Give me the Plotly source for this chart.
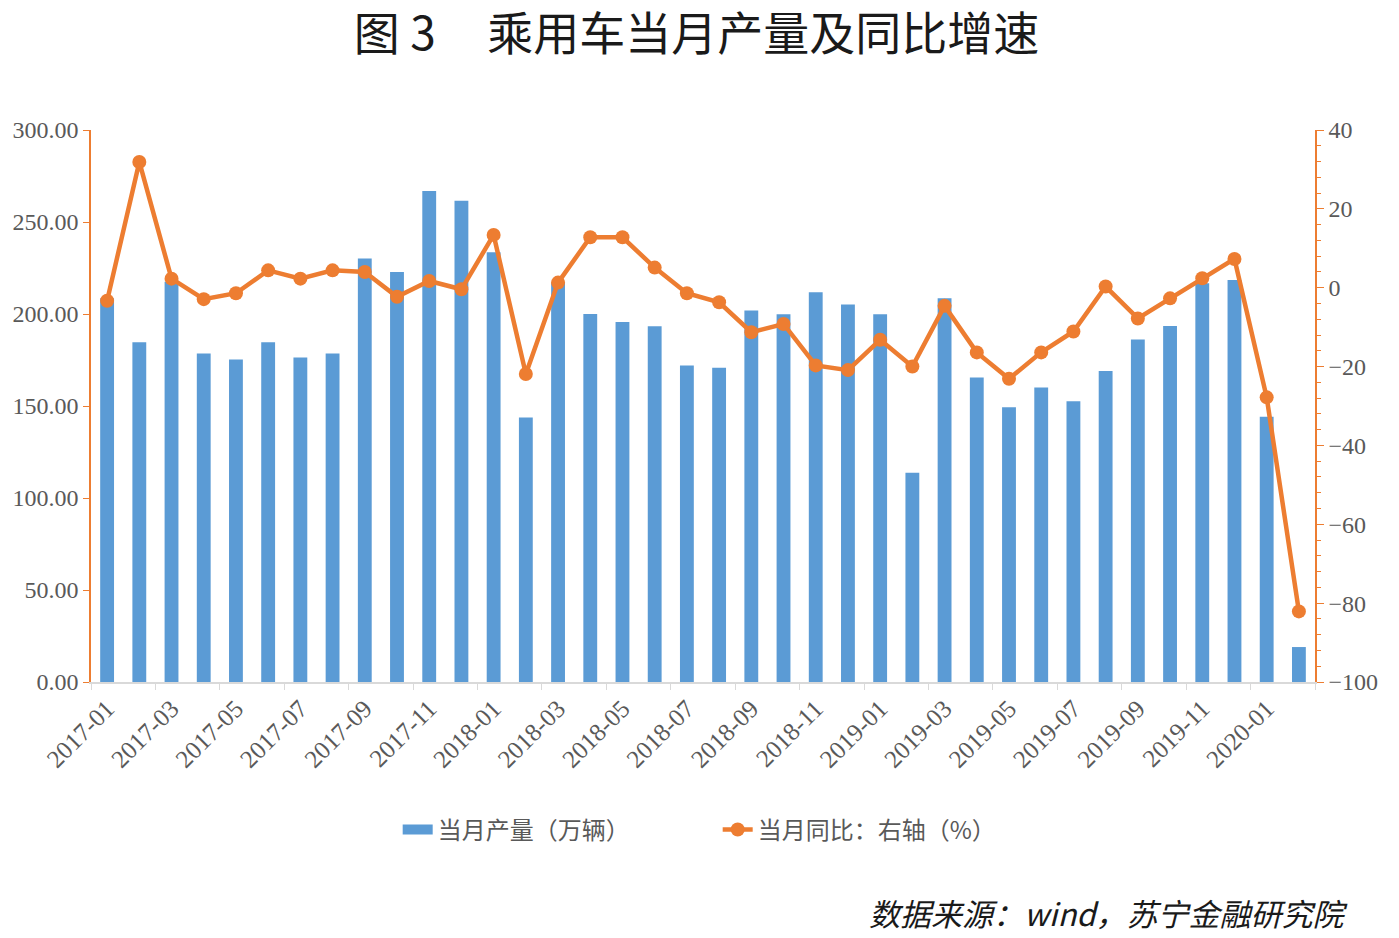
import plotly.graph_objects as go

months = [
    "2017-01", "2017-02", "2017-03", "2017-04", "2017-05", "2017-06",
    "2017-07", "2017-08", "2017-09", "2017-10", "2017-11", "2017-12",
    "2018-01", "2018-02", "2018-03", "2018-04", "2018-05", "2018-06",
    "2018-07", "2018-08", "2018-09", "2018-10", "2018-11", "2018-12",
    "2019-01", "2019-02", "2019-03", "2019-04", "2019-05", "2019-06",
    "2019-07", "2019-08", "2019-09", "2019-10", "2019-11", "2019-12",
    "2020-01", "2020-02",
]

# 当月产量（万辆）
production = [
    208.5, 184.7, 217.5, 178.6, 175.3, 184.7, 176.3, 178.6, 230.2, 222.8,
    266.8, 261.5, 233.5, 143.8, 217.0, 200.0, 195.6, 193.3, 172.0, 170.8,
    201.9, 199.9, 211.8, 205.2, 199.9, 113.7, 208.5, 165.5, 149.3, 160.1,
    152.6, 169.0, 186.2, 193.5, 216.7, 218.5, 144.2, 19.0,
]

# 当月同比（%）
yoy = [
    -3.3, 31.9, 2.3, -2.9, -1.4, 4.4, 2.3, 4.4, 4.0, -2.3,
    1.7, -0.4, 13.4, -21.9, 1.3, 12.8, 12.8, 5.1, -1.4, -3.7,
    -11.3, -9.2, -19.7, -20.9, -13.2, -20.0, -4.6, -16.4, -23.1, -16.4,
    -11.1, 0.3, -7.8, -2.7, 2.4, 7.3, -27.8, -82.1,
]

blue = "#5B9BD5"
orange = "#ED7D31"
serif = "Liberation Serif, DejaVu Serif, serif"
cjk = "Noto Sans CJK SC"

fig = go.Figure()

fig.add_trace(go.Bar(
    x=months, y=production,
    name="当月产量（万辆）",
    marker=dict(color=blue, line=dict(width=0)),
    width=0.43,
    showlegend=False,
))

# legend swatch for the bars: a wide blue band like the original
fig.add_trace(go.Scatter(
    x=[None], y=[None],
    name="当月产量（万辆）",
    mode="lines",
    line=dict(color=blue, width=11),
))

fig.add_trace(go.Scatter(
    x=months, y=yoy,
    name="当月同比：右轴（%）",
    mode="lines+markers",
    line=dict(color=orange, width=4.5),
    marker=dict(color=orange, size=14),
    yaxis="y2",
))

# page body has an 8px margin, so the figure is a bit smaller than the window
fig.update_layout(
    width=1391, height=930,
    margin=dict(l=83, r=84, t=122, b=256, autoexpand=False),
    plot_bgcolor="white", paper_bgcolor="white",
    title=dict(
        text="图 3\u00a0\u00a0\u00a0\u00a0\u00a0乘用车当月产量及同比增速",
        x=0.495, xanchor="center", y=0.972, yanchor="middle",
        font=dict(family=cjk, size=46, color="#1a1a1a"),
    ),
    xaxis=dict(
        type="category",
        range=[-0.5, 37.5],
        dtick=2,
        tickangle=-45,
        tickson="boundaries",
        ticks="outside", ticklen=6, tickcolor="#d9d9d9",
        showline=True, linecolor="#d9d9d9", linewidth=2,
        showgrid=False,
        tickfont=dict(family=serif, size=25, color="#595959"),
    ),
    yaxis=dict(
        range=[0, 300], tickvals=[0, 50, 100, 150, 200, 250, 300],
        tickformat=".2f",
        ticks="outside", ticklen=6, tickcolor=orange,
        showline=True, linecolor=orange, linewidth=1.5,
        showgrid=False, zeroline=False,
        tickfont=dict(family=serif, size=24, color="#595959"),
    ),
    yaxis2=dict(
        overlaying="y", side="right",
        range=[-100, 40], tickvals=[-100, -80, -60, -40, -20, 0, 20, 40],
        ticks="outside", ticklen=7, tickcolor=orange,
        minor=dict(dtick=4, ticks="outside", ticklen=4, tickcolor=orange),
        showline=True, linecolor=orange, linewidth=1.5,
        showgrid=False, zeroline=False,
        tickfont=dict(family=serif, size=24, color="#595959"),
    ),
    legend=dict(
        orientation="h",
        x=0.512, xanchor="center", y=-0.268, yanchor="middle",
        font=dict(family=cjk, size=24, color="#595959"),
        entrywidth=275,
    ),
)

fig.add_annotation(
    text="<i>数据来源：wind，苏宁金融研究院</i>",
    xref="paper", yref="paper",
    x=1.0286, y=-0.418, xanchor="right", yanchor="middle",
    showarrow=False,
    font=dict(family=cjk, size=31, color="#1a1a1a"),
)

fig.write_html("out.html")
